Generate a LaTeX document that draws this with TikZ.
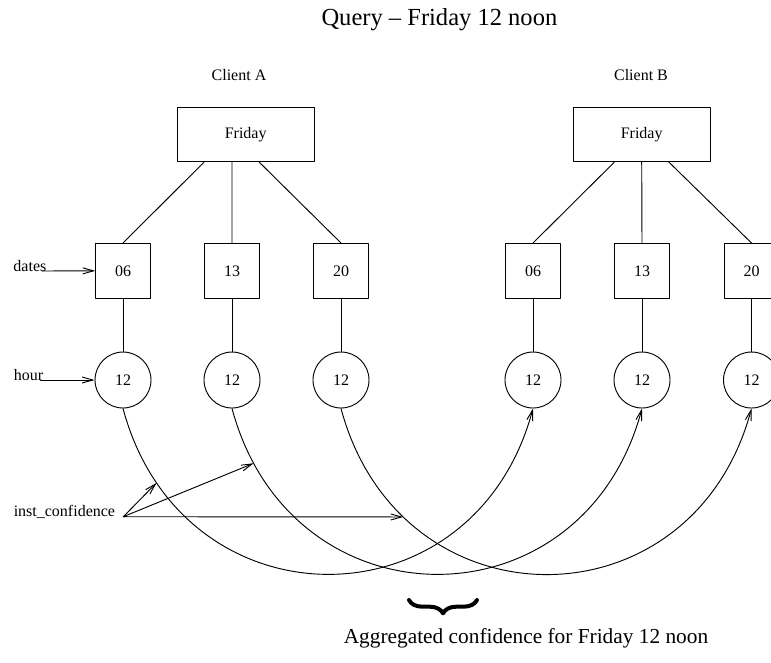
\documentclass[tikz,border=0pt]{standalone}
\usepackage{fontspec}
\setmainfont{Liberation Serif}
\usetikzlibrary{arrows.meta,decorations.pathreplacing}
\begin{document}
\begin{tikzpicture}[x=0.75pt,y=0.75pt,line cap=round,line join=round,line width=0.7pt,
  >={Straight Barb[length=8pt,width=4.5pt]},
  lbl/.style={inner sep=0pt,font=\fontsize{12}{14}\selectfont},
  daybox/.style={draw,minimum width=102.75pt,minimum height=40.9pt,inner sep=0pt,font=\fontsize{12}{14}\selectfont},
  datebox/.style={draw,minimum width=41pt,minimum height=41pt,inner sep=0pt,font=\fontsize{12}{14}\selectfont},
  hourcirc/.style={draw,circle,minimum size=42pt,inner sep=0pt,font=\fontsize{12}{14}\selectfont}]
  \useasboundingbox (0,0) rectangle (771,-662);
  \clip (0,0) rectangle (771,-662);
  \node[anchor=base,font=\fontsize{18.4}{22}\selectfont] (query) at (439.4,-25) {Query -- Friday 12 noon};
  \node[lbl,anchor=base] (clienta) at (239,-80.5) {Client A};
  \node[lbl,anchor=base] (clientb) at (641,-80.5) {Client B};
  \node[daybox] (fria) at (245.7,-134.5) {Friday};
  \node[daybox] (frib) at (641.7,-134.5) {Friday};
  \node[datebox] (da06) at (123,-270.8) {06};
  \node[datebox] (da13) at (232,-270.8) {13};
  \node[datebox] (da20) at (341,-270.8) {20};
  \node[datebox] (db06) at (533,-270.8) {06};
  \node[datebox] (db13) at (642,-270.8) {13};
  \node[datebox] (db20) at (751.5,-270.8) {20};
  \node[hourcirc] (ha1) at (123,-380) {12};
  \node[hourcirc] (ha2) at (232,-380) {12};
  \node[hourcirc] (ha3) at (341,-380) {12};
  \node[hourcirc] (hb1) at (533,-380) {12};
  \node[hourcirc] (hb2) at (642,-380) {12};
  \node[hourcirc] (hb3) at (751.5,-380) {12};
  \node[lbl,anchor=base west] (dates) at (13,-271) {dates};
  \node[lbl,anchor=base west] (hour) at (13.3,-380) {hour};
  \node[lbl,anchor=base west] (conf) at (13.3,-516.7) {inst\_confidence};
  \coordinate (src) at (123.3,-516.7);
  \draw ([xshift=-31.3pt]fria.south) -- (da06.north);
  \draw ([xshift=-10.3pt]fria.south) -- (da13.north);
  \draw ([xshift=10.2pt]fria.south) -- (da20.north);
  \draw ([xshift=-20.6pt]frib.south) -- (db06.north);
  \draw (frib.south) -- (db13.north);
  \draw ([xshift=20.5pt]frib.south) -- (db20.north);
  \draw (da06) -- (ha1);
  \draw (da13) -- (ha2);
  \draw (da20) -- (ha3);
  \draw (db06) -- (hb1);
  \draw (db13) -- (hb2);
  \draw (db20) -- (hb3);
  \draw[->] ([xshift=-3.5pt]dates.base east) -- (da06.west);
  \draw[->] ([xshift=-2.2pt]hour.base east) -- (ha1.west);
  \draw[->] (ha1.south) to[out=-75,in=-105,looseness=1.43] coordinate[pos=0.129] (ma) (hb1.south);
  \draw[->] (ha2.south) to[out=-75,in=-105,looseness=1.43] coordinate[pos=0.091] (mb) (hb2.south);
  \draw[->] (ha3.south) to[out=-75,in=-105,looseness=1.43] coordinate[pos=0.206] (mc) (hb3.south);
  \draw[->] (src) -- (ma);
  \draw[->] (src) -- (mb);
  \draw[->] (src) -- (mc);
  \draw[decorate,decoration={brace,amplitude=10pt,mirror},line width=3pt] (409,-600) -- (477,-600);
  \node[anchor=base,font=\fontsize{16}{19}\selectfont] (agg) at (526,-643) {Aggregated confidence for Friday 12 noon};
\end{tikzpicture}
\end{document}
